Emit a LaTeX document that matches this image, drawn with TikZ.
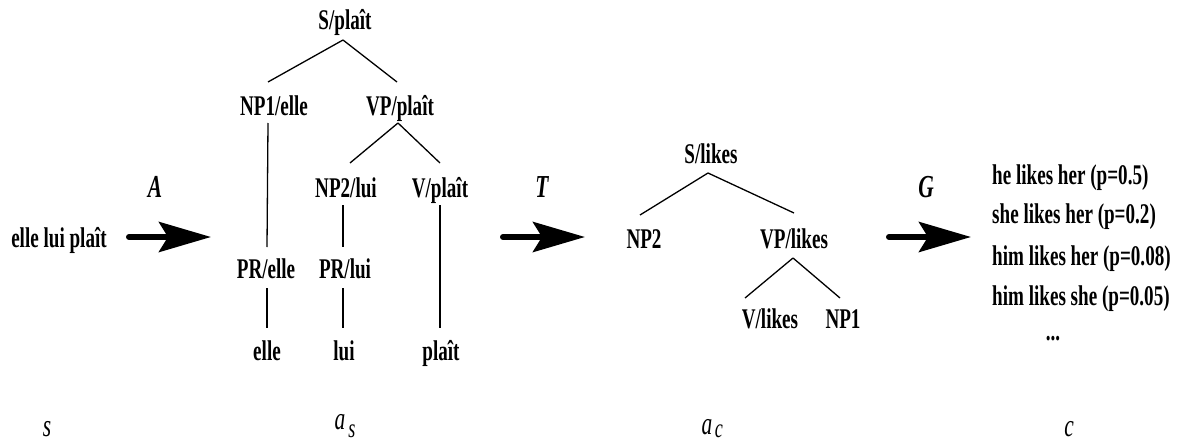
\documentclass[tikz,border=0pt]{standalone}
\usepackage{fontspec}
\setmainfont{Liberation Serif}[FakeStretch=0.67]
\usetikzlibrary{arrows.meta}
\begin{document}
\begin{tikzpicture}[x=1pt,y=-1pt,
  lbl/.style={font=\fontsize{28.5}{32}\selectfont\bfseries, anchor=base, inner sep=0pt},
  lw/.style={lbl, anchor=base west},
  tl/.style={line width=1.3pt},
  bigarrow/.style={line width=6pt, line cap=round, -{Stealth[length=52pt,width=30pt,inset=9pt]}},
  ital/.style={font=\fontsize{32}{34}\selectfont\bfseries\itshape, anchor=base, inner sep=0pt},
  var/.style={font=\fontsize{32}{34}\selectfont\itshape, anchor=base, inner sep=0pt},
  sub/.style={font=\fontsize{27}{30}\selectfont\itshape, anchor=base, inner sep=0pt}]
\useasboundingbox (0,0) rectangle (1177,444);

% source sentence and arrow A
\node[lbl] (src) at (59,247) {elle lui plaît};
\node[ital] (lA) at (155,197) {A};
\coordinate (aAs) at (129,237);
\coordinate (aAe) at (211,237);
\draw[bigarrow] (aAs) -- (aAe);

% tree a_s
\node[lbl] (sp)   at (345,30)  {S/plaît};
\node[lbl] (np1)  at (274,115) {NP1/elle};
\node[lbl] (vpp)  at (400,115) {VP/plaît};
\node[lbl] (np2)  at (346,197) {NP2/lui};
\node[lbl] (vp)   at (440,197) {V/plaît};
\node[lbl] (pre)  at (266,278) {PR/elle};
\node[lbl] (prl)  at (345,278) {PR/lui};
\node[lbl] (welle) at (267,360) {elle};
\node[lbl] (wlui)  at (344,360) {lui};
\node[lbl] (wplait) at (441,360) {plaît};

\draw[tl] ([shift={(-2,10)}]sp.base) -- ([shift={(-6,-33)}]np1.base);
\draw[tl] ([shift={(-2,10)}]sp.base) -- ([shift={(-3,-33)}]vpp.base);
\draw[tl] ([shift={(-6,8)}]np1.base) -- ([shift={(1,-31)}]pre.base);
\draw[tl] ([shift={(-2,8)}]vpp.base) -- ([shift={(4,-34)}]np2.base);
\draw[tl] ([shift={(-2,8)}]vpp.base) -- ([shift={(0,-34)}]vp.base);
\draw[tl] ([shift={(-3,8)}]np2.base) -- ([shift={(-2,-31)}]prl.base);
\draw[tl] ([shift={(0,8)}]vp.base) -- ([shift={(-1,-32)}]wplait.base);
\draw[tl] ([shift={(1,10)}]pre.base) -- ([shift={(0,-32)}]welle.base);
\draw[tl] ([shift={(-2,10)}]prl.base) -- ([shift={(-1,-32)}]wlui.base);

% arrow T
\node[ital] (lT) at (542,197) {T};
\coordinate (aTs) at (503,237);
\coordinate (aTe) at (585,237);
\draw[bigarrow] (aTs) -- (aTe);

% tree a_c
\node[lbl] (sl)   at (711,163) {S/likes};
\node[lbl] (np2b) at (644,248) {NP2};
\node[lbl] (vpl)  at (794,248) {VP/likes};
\node[lbl] (vl)   at (770,328) {V/likes};
\node[lbl] (np1b) at (843,328) {NP1};

\draw[tl] ([shift={(-3,10)}]sl.base) -- ([shift={(-4,-33)}]np2b.base);
\draw[tl] ([shift={(-3,10)}]sl.base) -- ([shift={(0,-35)}]vpl.base);
\draw[tl] ([shift={(-1,10)}]vpl.base) -- ([shift={(-25,-30)}]vl.base);
\draw[tl] ([shift={(-1,10)}]vpl.base) -- ([shift={(-3,-30)}]np1b.base);

% arrow G
\node[ital] (lG) at (926,197) {G};
\coordinate (aGs) at (889,237);
\coordinate (aGe) at (971,237);
\draw[bigarrow] (aGs) -- (aGe);

% candidate list
\node[lw] (c1) at (992,184) {he likes her (p=0.5)};
\node[lw] (c2) at (992,223) {she likes her (p=0.2)};
\node[lw] (c3) at (992,265) {him likes her (p=0.08)};
\node[lw] (c4) at (992,305) {him likes she (p=0.05)};
\node[lbl] (c5) at (1053,340) {...};

% bottom variables
\node[var] (vs) at (47,436) {s};
\node[var] (vas) at (340,429) {a};
\node[sub] (vass) at (352,437) {s};
\node[var] (vac) at (707,434) {a};
\node[sub] (vacc) at (719,437) {c};
\node[var] (vc) at (1069,436) {c};
\end{tikzpicture}
\end{document}
